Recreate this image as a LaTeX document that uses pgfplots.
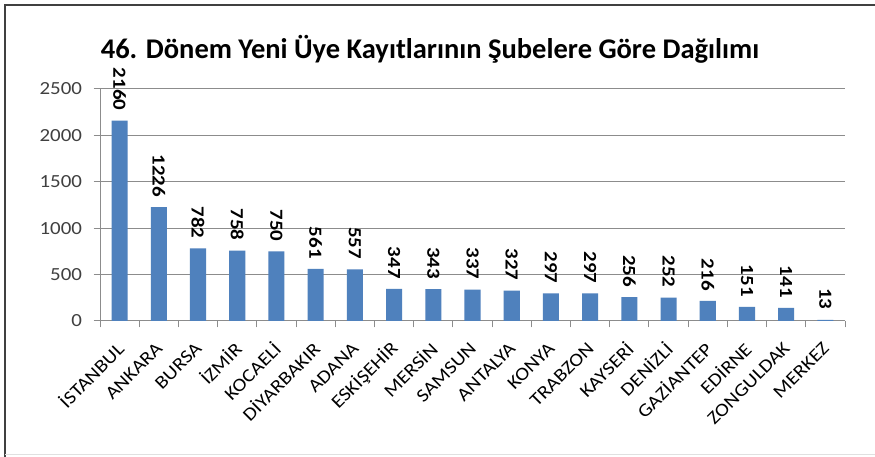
\documentclass[border=0pt]{standalone}
\usepackage{fontspec}
\setmainfont{Carlito}
\newfontfamily\wide{Carlito}[FakeStretch=1.13]
\usepackage{pgfplots}
\pgfplotsset{compat=1.18}
\definecolor{barblue}{HTML}{4F81BD}
\definecolor{gridgray}{HTML}{8C8C8C}
\definecolor{ticktext}{HTML}{404040}
\pgfplotstableread{
x val
0 2160
1 1226
2 782
3 758
4 750
5 561
6 557
7 347
8 343
9 337
10 327
11 297
12 297
13 256
14 252
15 216
16 151
17 141
18 13
}\datatable
\begin{document}
\begin{tikzpicture}
\useasboundingbox (0,0) rectangle (875pt,457pt);
\fill[white] (0,0) rectangle (875pt,457pt);
\draw[line width=2pt, color=black!75] (5pt,0) -- (5pt,452pt) -- (875pt,452pt);
\draw[line width=1pt, black!12] (5pt,2pt) -- (875pt,2pt);
\begin{axis}[
  at={(100pt,136pt)}, anchor=south west,
  width=745pt, height=232pt, scale only axis,
  xmin=-0.5, xmax=18.5, ymin=0, ymax=2500,
  ytick={0,500,...,2500},
  xtick={-0.5,0.5,...,18.5}, xticklabels={},
  extra x ticks={0,...,18},
  extra x tick labels={İSTANBUL,ANKARA,BURSA,İZMİR,KOCAELİ,DİYARBAKIR,ADANA,ESKİŞEHİR,MERSİN,SAMSUN,ANTALYA,KONYA,TRABZON,KAYSERİ,DENİZLİ,GAZİANTEP,EDİRNE,ZONGULDAK,MERKEZ},
  extra x tick style={major tick length=0pt,
    tick label style={xshift=3pt, yshift=-22pt, rotate=45, anchor=east, font=\wide\fontsize{18.5}{18.5}\selectfont, text=black}},
  axis x line*=bottom, axis y line*=left,
  axis line style={draw=gridgray, line width=1pt, -},
  tick style={draw=gridgray, line width=1pt},
  major tick length=6.5pt,
  tick align=outside,
  ymajorgrids,
  major grid style={draw=gridgray, line width=1pt},
  y tick label style={xshift=-8pt, font=\wide\fontsize{18.5}{18.5}\selectfont, text=ticktext},
  /pgf/number format/assume math mode=true,
  /pgf/number format/1000 sep={},
  title={46. Dönem Yeni Üye Kayıtlarının Şubelere Göre Dağılımı},
  title style={at={(0.443,1)}, anchor=base, yshift=24pt, font=\bfseries\fontsize{28.5}{28.5}\selectfont},
  clip=false,
]
\addplot[ybar, bar width=0.41, fill=barblue, draw=none,
  nodes near coords,
  every node near coord/.append style={rotate=-90, anchor=east, inner xsep=10pt, inner ysep=0pt,
    font=\wide\bfseries\fontsize{18.5}{18.5}\selectfont, text=black},
  /pgf/number format/assume math mode=true]
  table[x=x, y=val] {\datatable};
\end{axis}
\end{tikzpicture}
\end{document}
